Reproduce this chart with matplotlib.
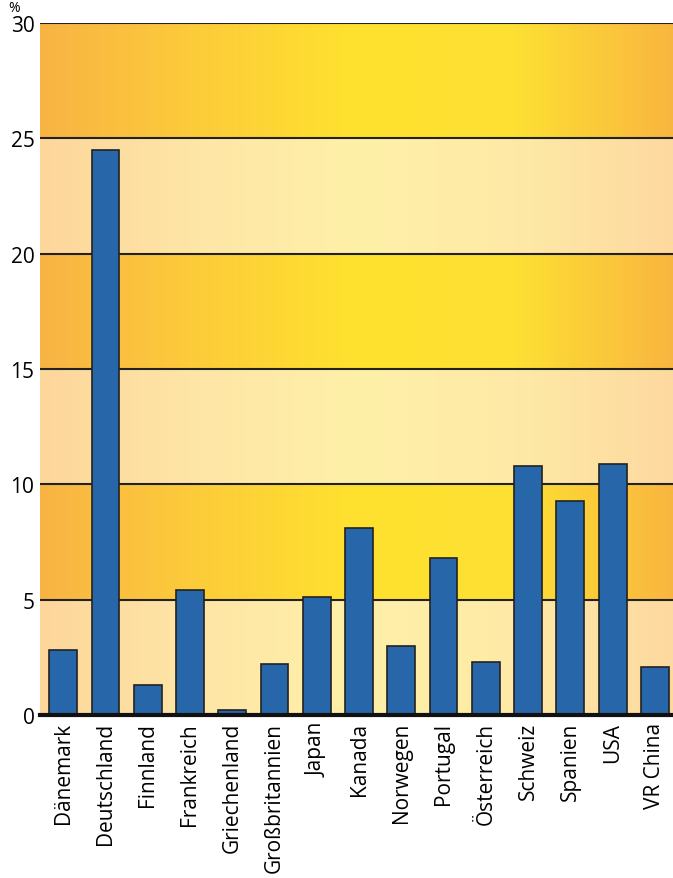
import numpy as np
import matplotlib.pyplot as plt
from matplotlib.colors import LinearSegmentedColormap

# Daten
laender = ['Dänemark', 'Deutschland', 'Finnland', 'Frankreich', 'Griechenland',
           'Großbritannien', 'Japan', 'Kanada', 'Norwegen', 'Portugal',
           'Österreich', 'Schweiz', 'Spanien', 'USA', 'VR China']
werte = [2.8, 24.5, 1.3, 5.4, 0.2, 2.2, 5.1, 8.1, 3.0, 6.8, 2.3, 10.8, 9.3, 10.9, 2.1]
y_ticks = [0, 5, 10, 15, 20, 25, 30]

plt.rcParams['font.family'] = ['Open Sans', 'DejaVu Sans']

fig = plt.figure(figsize=(6.73, 8.79), dpi=100)
ax = fig.add_axes([0.0594, 0.1854, 0.9406, 0.7873])

x = np.arange(len(laender))
xlim = (-0.55, len(laender) - 0.57)

# Hintergrund: abwechselnd helle und dunkle Bänder mit Verlauf
dunkel = LinearSegmentedColormap.from_list('d', ['#f8b444', '#fdcc3a', '#ffe22e', '#fde033', '#f9b640'])
hell = LinearSegmentedColormap.from_list('h', ['#fdd69c', '#fee6a6', '#fff0a8', '#feeaa6', '#fdd9a0'])
grad = np.linspace(0, 1, 256).reshape(1, -1)
for i in range(len(y_ticks) - 1):
    cmap = hell if i % 2 == 0 else dunkel
    ax.imshow(grad, cmap=cmap, aspect='auto', zorder=0,
              extent=(xlim[0], xlim[1], y_ticks[i], y_ticks[i + 1]))

for y in y_ticks[1:]:
    ax.axhline(y, color='#222222', lw=1.5, zorder=1)

ax.bar(x, werte, width=0.66, color='#2866aa', edgecolor='#222222', linewidth=1.2, zorder=2)
ax.axhline(0, color='#111111', lw=3, zorder=3, clip_on=False)

ax.set_xlim(*xlim)
ax.set_ylim(0, 30)
ax.set_yticks(y_ticks)
ax.set_yticklabels([str(v) for v in y_ticks], fontsize=15)
ax.set_xticks(x)
ax.set_xticklabels(laender, rotation=90, fontsize=15)
ax.tick_params(length=0, pad=5)
ax.tick_params(axis='y', pad=4)
for s in ax.spines.values():
    s.set_visible(False)

fig.text(0.012, 0.99, '%', fontsize=10, va='center', ha='left')

fig.savefig('out.png', dpi=100)
